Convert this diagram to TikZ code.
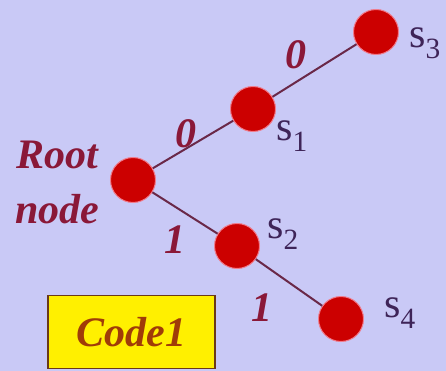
\documentclass[tikz,border=0pt]{standalone}
\usepackage{fontspec}
\setmainfont{Liberation Serif}
\usepackage{tikz}
\usetikzlibrary{positioning}
\definecolor{bgpanel}{HTML}{C9C9F6}
\definecolor{dotfill}{HTML}{CC0000}
\definecolor{dotrim}{HTML}{F07C8C}
\definecolor{edgeline}{HTML}{6A2848}
\definecolor{labelred}{HTML}{8A1838}
\definecolor{labelnavy}{HTML}{3E2458}
\definecolor{codefill}{HTML}{FFF000}
\definecolor{codeline}{HTML}{6A3A18}
\definecolor{codetext}{HTML}{A03C08}

\begin{document}
\begin{tikzpicture}[x=1pt,y=-1pt,
  treedot/.style={circle,fill=dotfill,draw=dotrim,line width=1pt,minimum size=45pt,inner sep=0pt},
  bit/.style={text=labelred,font=\fontsize{42}{46}\selectfont\bfseries\itshape,inner sep=0pt},
  sname/.style={text=labelnavy,font=\fontsize{42}{46}\selectfont,inner sep=0pt},
  ln/.style={edgeline,line width=2pt}]
\fill[bgpanel] (0,0) rectangle (446,371);
\useasboundingbox (0,0) rectangle (446,371);
% tree
\node[treedot] (root) at (133,180) {};
\node[treedot] (s1) at (253,109) {};
\node[treedot] (s3) at (376,32) {};
\node[treedot] (s2) at (237,246) {};
\node[treedot] (s4) at (341,319) {};
\draw[ln] (root)--(s1); \draw[ln] (s1)--(s3);
\draw[ln] (root)--(s2); \draw[ln] (s2)--(s4);
% bits
\node[bit] (b1) at (186,134) {0};
\node[bit] (b3) at (296,55) {0};
\node[bit] (b2) at (175,240) {1};
\node[bit] (b4) at (262,308) {1};
% names
\node[sname] (n1) at (292,136) {s\textsubscript{1}};
\node[sname] (n3) at (425,43) {s\textsubscript{3}};
\node[sname] (n2) at (283,234) {s\textsubscript{2}};
\node[sname] (n4) at (400,313) {s\textsubscript{4}};
\node[text=labelred,font=\fontsize{42}{55}\selectfont\bfseries\itshape,align=center,inner sep=0pt] (rootname) at (57,182) {Root\\node};
% code box
\node[draw=codeline,fill=codefill,line width=1.5pt,minimum width=167pt,minimum height=73pt,
  text=codetext,font=\fontsize{42}{46}\selectfont\bfseries\itshape] (code) at (131.5,332) {Code1};
\end{tikzpicture}
\end{document}
